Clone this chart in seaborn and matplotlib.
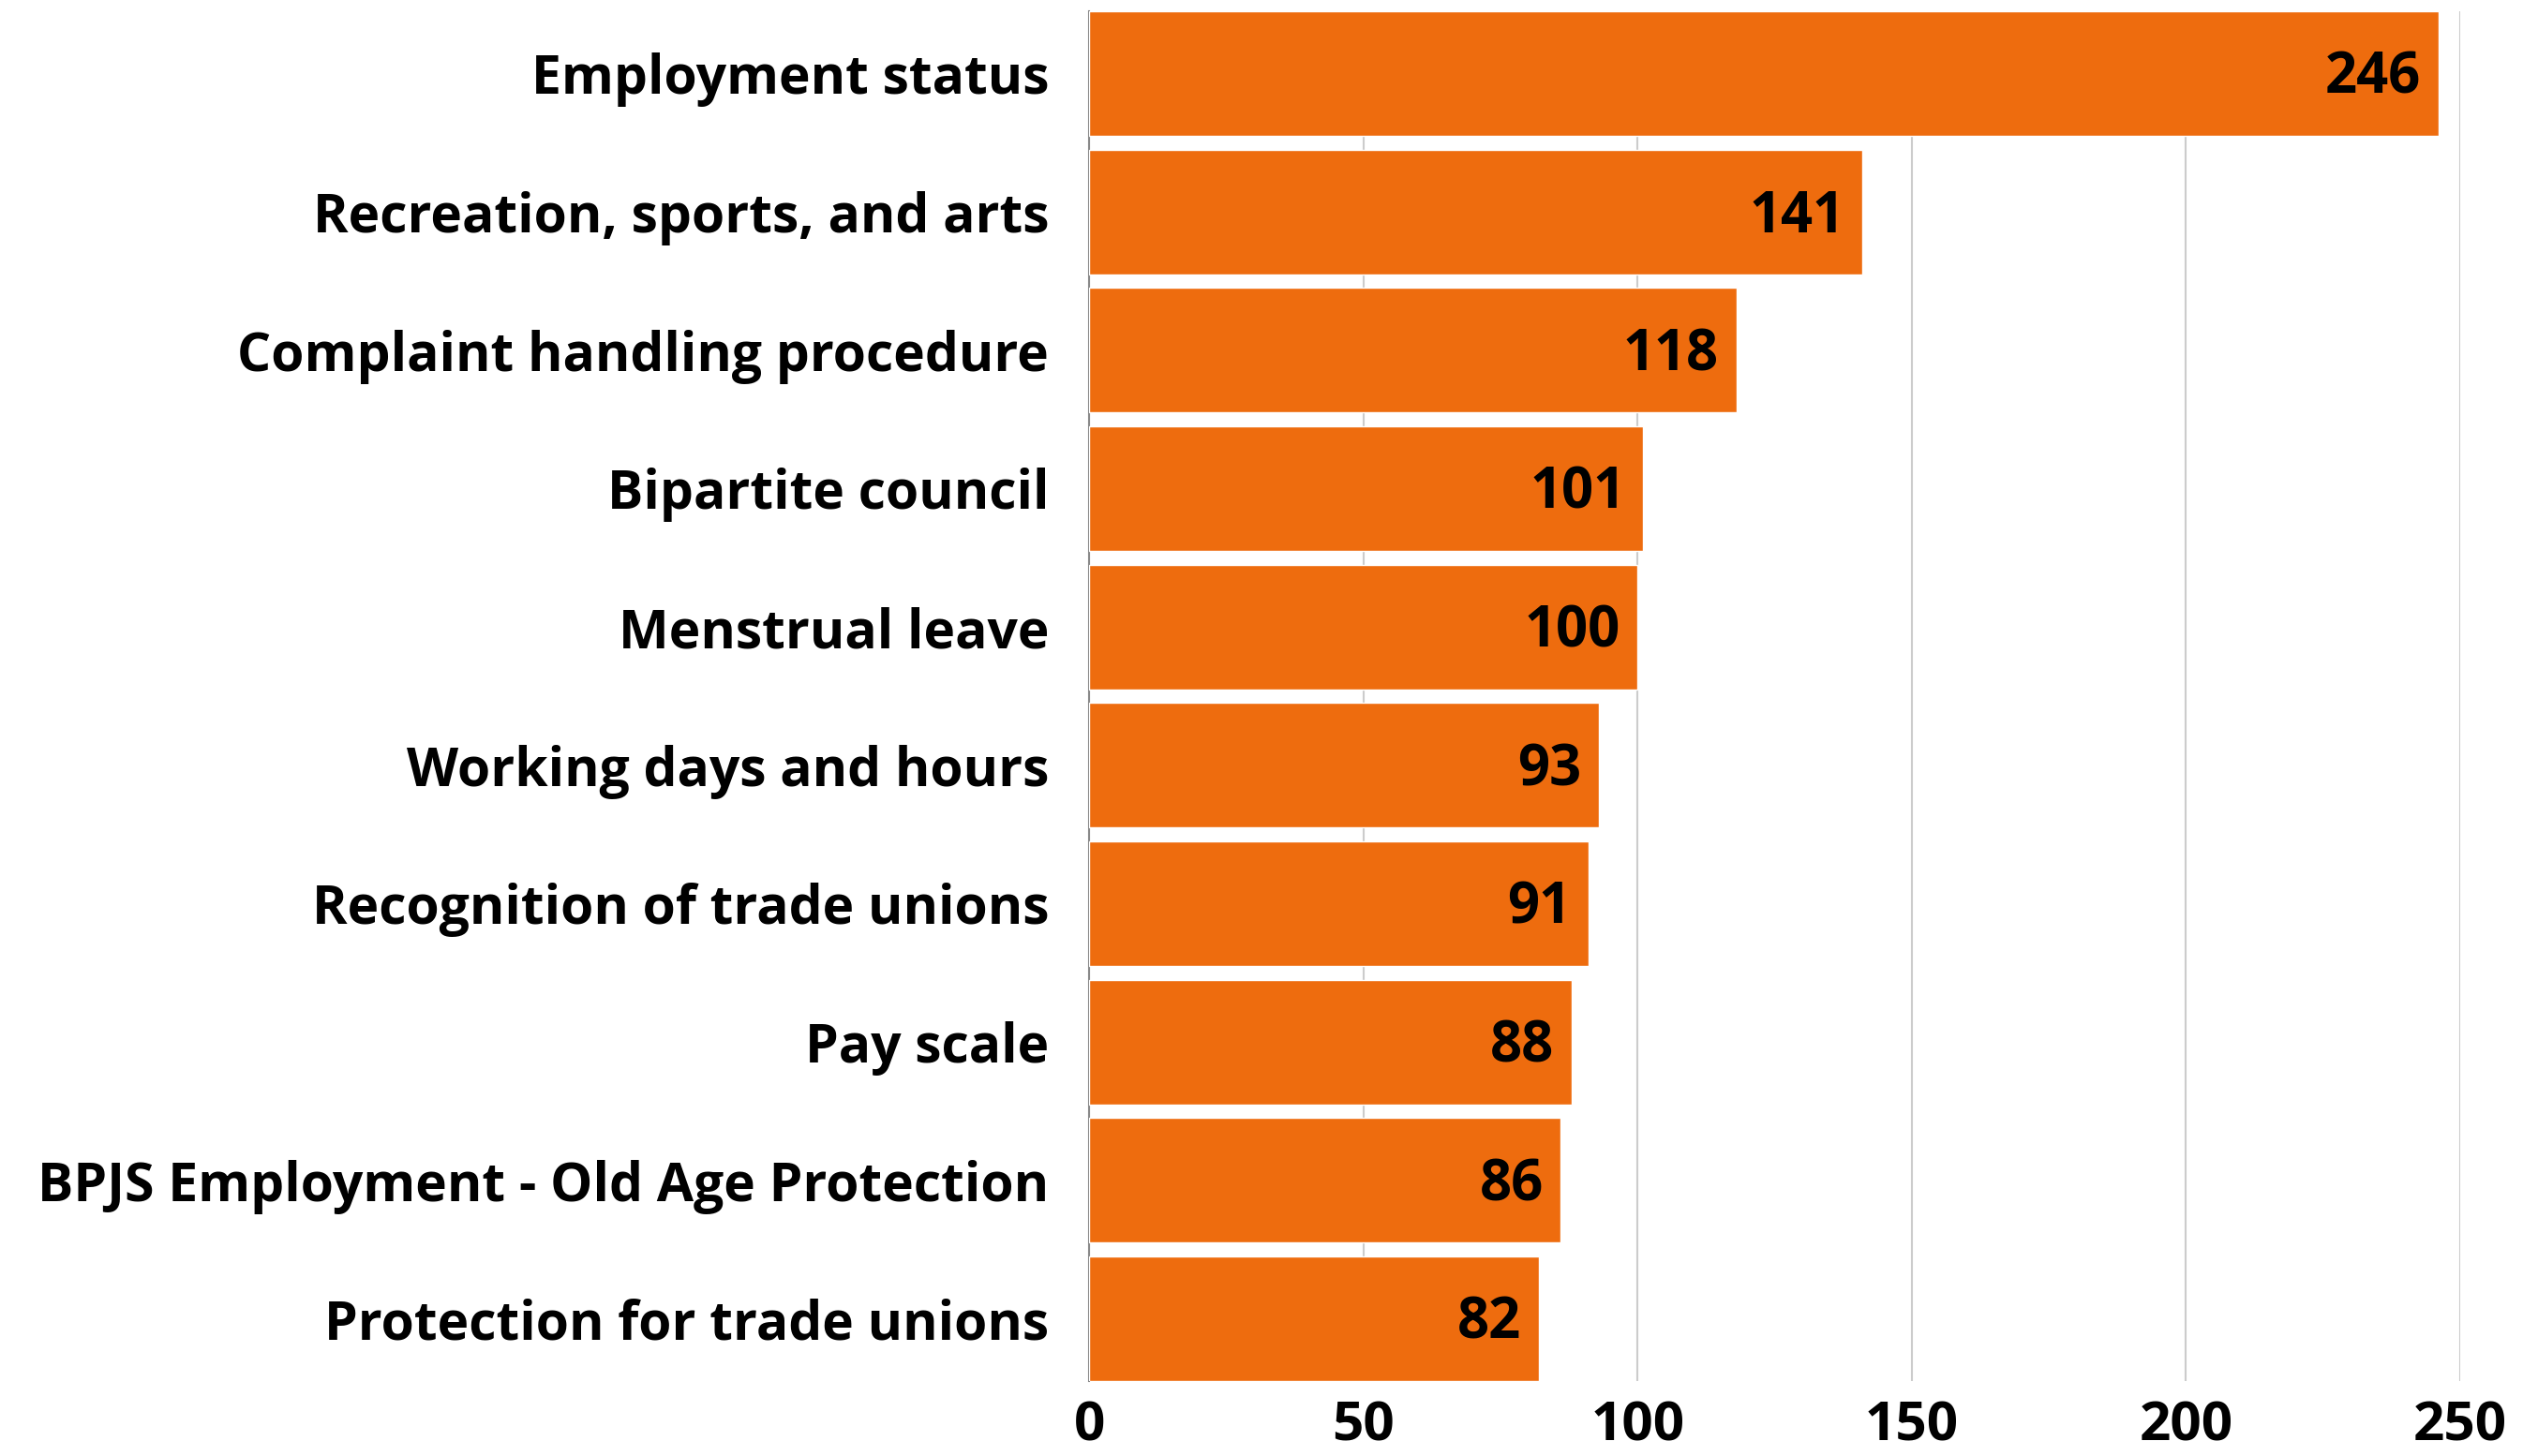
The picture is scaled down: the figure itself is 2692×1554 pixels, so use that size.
import matplotlib
matplotlib.use("Agg")
import matplotlib.pyplot as plt
import seaborn as sns
import pandas as pd

# data
categories = [
    "Employment status",
    "Recreation, sports, and arts",
    "Complaint handling procedure",
    "Bipartite council",
    "Menstrual leave",
    "Working days and hours",
    "Recognition of trade unions",
    "Pay scale",
    "BPJS Employment - Old Age Protection",
    "Protection for trade unions",
]
counts = [246, 141, 118, 101, 100, 93, 91, 88, 86, 82]
xticks = [0, 50, 100, 150, 200, 250]

BAR_COLOR = "#EE6C0E"

sns.set_theme(style="white")
plt.rcParams["font.family"] = ["Open Sans", "DejaVu Sans"]

df = pd.DataFrame({"category": categories, "count": counts})

fig = plt.figure(figsize=(26.92, 15.54), dpi=100)
ax = fig.add_axes([0.4317, 0.0515, 0.5434, 0.9408])

sns.barplot(data=df, y="category", x="count", color=BAR_COLOR,
            saturation=1, width=0.9, ax=ax, zorder=3)

# value labels inside bar ends
for p, v in zip(ax.patches, counts):
    ax.text(p.get_width() - 3.2, p.get_y() + p.get_height() / 2 + 0.04, str(v),
            ha="right", va="center", fontsize=43, fontweight="bold",
            color="black", zorder=4)

ax.set_xlim(0, 250)
ax.set_ylim(9.45, -0.45)
ax.set_xticks(xticks)
ax.set_xticklabels([str(t) for t in xticks], fontsize=42, fontweight="bold",
                   color="black")
ax.tick_params(axis="y", labelsize=41, pad=31, length=0, labelcolor="black")
ax.tick_params(axis="x", pad=14, length=0, labelcolor="black")
for lbl in ax.get_yticklabels():
    lbl.set_fontweight("bold")
    lbl.set_y(lbl.get_position()[1])

ax.set_xlabel("")
ax.set_ylabel("")
ax.grid(axis="x", color="#cccccc", linewidth=1.5, zorder=0)
ax.set_axisbelow(True)
for s in ["top", "right", "bottom"]:
    ax.spines[s].set_visible(False)
ax.spines["left"].set_color("#888888")
ax.spines["left"].set_linewidth(1.5)

fig.savefig("out.png", dpi=100, facecolor="white")
